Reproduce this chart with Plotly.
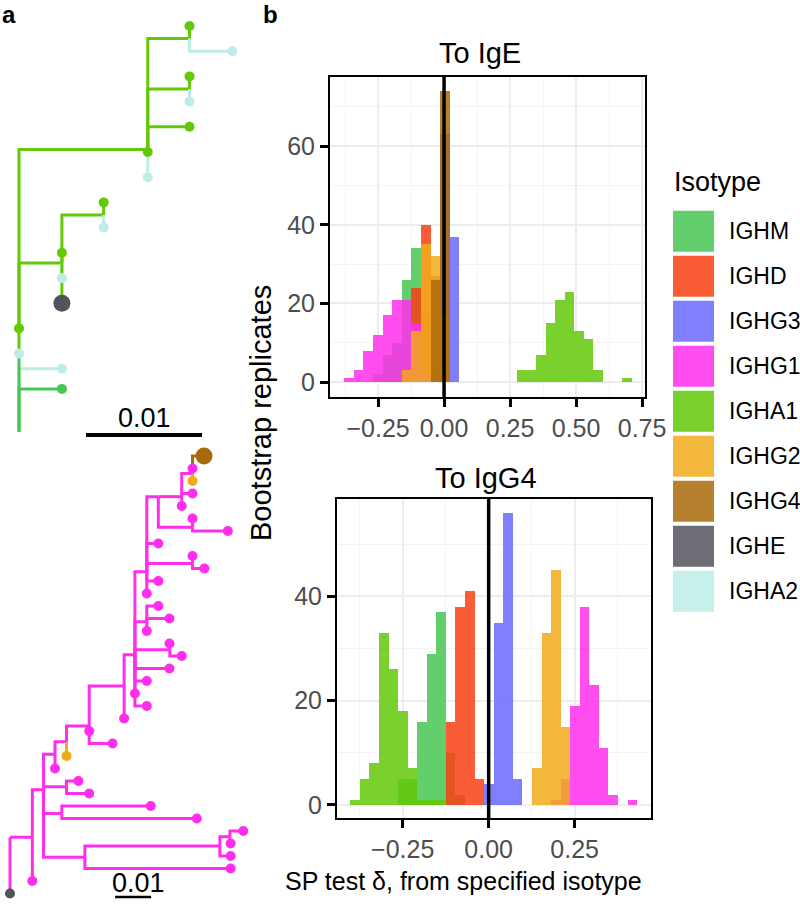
import plotly.graph_objects as go

W, H = 800, 905
FONT = "Liberation Sans, Arial, Helvetica, sans-serif"

# -----------------------------
# Isotypes and colours (as they appear on white)
# -----------------------------
isotypes = ["IGHM", "IGHD", "IGHG3", "IGHG1", "IGHA1", "IGHG2", "IGHG4", "IGHE", "IGHA2"]
iso_on_white = ["#63CF6C", "#FA5C38", "#8080FF", "#FF4DF0", "#7AD02C",
                "#F3B73E", "#B78030", "#6C6E75", "#C7F0EA"]
ALPHA = 0.85

# -----------------------------
# Histogram data: bootstrap counts per bin (30 bins per panel)
# -----------------------------
ige_bin_start = -0.378
ige_bin_width = 0.0363
ige_counts = {
    "IGHM":  [0, 0, 0, 2, 7, 10, 26, 34, 18, 3, 0, 0, 0, 0, 0, 0, 0, 0, 0, 0, 0, 0, 0, 0, 0, 0, 0, 0, 0, 0],
    "IGHD":  [0, 0, 0, 0, 0, 0, 3, 24, 40, 27, 6, 0, 0, 0, 0, 0, 0, 0, 0, 0, 0, 0, 0, 0, 0, 0, 0, 0, 0, 0],
    "IGHG3": [0, 0, 0, 0, 0, 0, 0, 0, 0, 0, 63, 37, 0, 0, 0, 0, 0, 0, 0, 0, 0, 0, 0, 0, 0, 0, 0, 0, 0, 0],
    "IGHG1": [1, 3, 8, 12, 17, 21, 21, 15, 2, 0, 0, 0, 0, 0, 0, 0, 0, 0, 0, 0, 0, 0, 0, 0, 0, 0, 0, 0, 0, 0],
    "IGHA1": [0, 0, 0, 0, 0, 0, 0, 0, 0, 0, 0, 0, 0, 0, 0, 0, 0, 0, 3, 3, 7, 15, 21, 23, 13, 11, 3, 0, 0, 1],
    "IGHG2": [0, 0, 0, 0, 0, 0, 3, 13, 35, 32, 17, 0, 0, 0, 0, 0, 0, 0, 0, 0, 0, 0, 0, 0, 0, 0, 0, 0, 0, 0],
    "IGHG4": [0, 0, 0, 0, 0, 0, 0, 0, 0, 26, 74, 0, 0, 0, 0, 0, 0, 0, 0, 0, 0, 0, 0, 0, 0, 0, 0, 0, 0, 0],
}

igg4_bin_start = -0.4023
igg4_bin_width = 0.0278
igg4_counts = {
    "IGHM":  [0, 0, 0, 0, 0, 5, 5, 16, 29, 37, 10, 2, 0, 0, 0, 0, 0, 0, 0, 0, 0, 0, 0, 0, 0, 0, 0, 0, 0, 0],
    "IGHD":  [0, 0, 0, 0, 0, 0, 0, 0, 0, 0, 16, 38, 41, 5, 0, 0, 0, 0, 0, 0, 0, 0, 0, 0, 0, 0, 0, 0, 0, 0],
    "IGHG3": [0, 0, 0, 0, 0, 0, 0, 0, 0, 0, 0, 0, 0, 0, 4, 35, 56, 5, 0, 0, 0, 0, 0, 0, 0, 0, 0, 0, 0, 0],
    "IGHG1": [0, 0, 0, 0, 0, 0, 0, 0, 0, 0, 0, 0, 0, 0, 0, 0, 0, 0, 0, 0, 0, 1, 5, 19, 38, 23, 11, 2, 0, 1],
    "IGHA1": [1, 5, 8, 33, 26, 18, 7, 1, 1, 1, 0, 0, 0, 0, 0, 0, 0, 0, 0, 0, 0, 0, 0, 0, 0, 0, 0, 0, 0, 0],
    "IGHG2": [0, 0, 0, 0, 0, 0, 0, 0, 0, 0, 0, 0, 0, 0, 0, 0, 0, 0, 0, 7, 33, 45, 15, 0, 0, 0, 0, 0, 0, 0],
}

# -----------------------------
# Tree a (top): x = divergence (subst./site), y = row
# -----------------------------
top_parent = [-1, 0, 0, 0, 3, 3, 5, 6, 6, 8, 8, 6, 11, 11, 6, 6, 5, 16, 16, 18, 18, 16, 16]
top_x = [0, 0.0037, 0.0037, 0, 0, 0, 0.0111, 0.0111, 0.0147, 0.0147, 0.0184, 0.0147,
         0.0147, 0.0147, 0.0147, 0.0111, 0.0037, 0.0037, 0.0073, 0.0073, 0.0073, 0.0037, 0.0037]
top_y = [16.1, 13.6, 14.4, 12.86, 13.0, 12.0, 4.9, 5.0, 0.5, 0.0, 1.0, 2.5,
         2.0, 3.0, 4.0, 6.0, 9.4, 9.0, 7.5, 7.0, 8.0, 10.0, 11.0]
top_edge = [None, "IGHA2", "IGHM", "IGHM", "IGHA2", "IGHA1", "IGHA1", "IGHA1", "IGHA1", "IGHA1",
            "IGHA2", "IGHA1", "IGHA1", "IGHA2", "IGHA1", "IGHA2", "IGHA1", "IGHA1", "IGHA1",
            "IGHA1", "IGHA2", "IGHA2", "IGHA1"]
top_tip = [None, "IGHA2", "IGHM", None, "IGHA2", "IGHA1", None, "IGHA1", None, "IGHA1",
           "IGHA2", None, "IGHA1", "IGHA2", "IGHA1", "IGHA2", None, "IGHA1", None,
           "IGHA1", "IGHA2", "IGHA2", "IGHE"]
top_target = "IGHE"

# -----------------------------
# Tree a (bottom)
# -----------------------------
bot_parent = [-1, 0, 0, 2, 2, 4, 5, 6, 7, 7, 6, 5, 4, 12, 12, 4, 15, 15, 4, 18,
              18, 20, 20, 22, 22, 22, 25, 25, 27, 27, 27, 27, 27, 32, 32, 27, 35, 35, 35, 27,
              39, 39, 39, 42, 42, 39, 39, 46, 47, 47, 46, 50, 50, 50, 53, 53, 53]
bot_x = [0, 0, 0.0062, 0.0062, 0.0093, 0.0208, 0.0583, 0.0611, 0.0648, 0.0613,
         0.0613, 0.0613, 0.0144, 0.0391, 0.0519, 0.0157, 0.0190, 0.0220, 0.0125, 0.0125,
         0.0157, 0.0157, 0.0220, 0.0220, 0.0285, 0.0317, 0.0317, 0.0347, 0.0443, 0.0380,
         0.0347, 0.0380, 0.0444, 0.0443, 0.0477, 0.0380, 0.0412, 0.0443, 0.0380, 0.0380,
         0.0412, 0.0380, 0.0507, 0.0507, 0.0540, 0.0412, 0.0412, 0.0507, 0.0507, 0.0605,
         0.0477, 0.0477, 0.0507, 0.0507, 0.0507, 0.0507, 0.0539]
bot_y = [30.5, 35, 30.5, 34, 26.7, 32.1, 31.2, 30.45, 30, 31,
         32, 33, 28.6, 28, 29, 26.45, 26, 27, 23.85, 25,
         22.85, 24, 21.6, 22, 23, 18.4, 21, 15.9, 17, 18,
         19, 20, 15.5, 15, 16, 13.25, 12, 13, 14, 9.25,
         10, 11, 8.6, 8, 9, 7, 3.25, 5.7, 5, 6,
         3.25, 4, 3, 1.4, 1, 2, 0]
bot_edge = ["IGHG1"] * 21 + ["IGHG2"] + ["IGHG1"] * 33 + ["IGHG2", "IGHG4"]
bot_tip = [None, "IGHE", None, "IGHG1", None, None, None, None, "IGHG1", "IGHG1",
           "IGHG1", "IGHG1", None, "IGHG1", "IGHG1", None, "IGHG1", "IGHG1", None, "IGHG1",
           None, "IGHG2", None, "IGHG1", "IGHG1", None, "IGHG1", None, "IGHG1", "IGHG1",
           "IGHG1", "IGHG1", None, "IGHG1", "IGHG1", None, "IGHG1", "IGHG1", "IGHG1", None,
           "IGHG1", "IGHG1", None, "IGHG1", "IGHG1", "IGHG1", None, None, "IGHG1", "IGHG1",
           None, "IGHG1", "IGHG1", None, "IGHG1", "IGHG2", "IGHG4"]
bot_target = "IGHG4"


# -----------------------------
# Helpers
# -----------------------------
def hex_rgb(h):
    return tuple(int(h[i:i + 2], 16) for i in (1, 3, 5))


def base_rgb(h, a=ALPHA):
    return tuple(int(round(min(255, max(0, (c - 255 * (1 - a)) / a)))) for c in hex_rgb(h))


def rgba(h, a=ALPHA):
    r, g, b = base_rgb(h, a)
    return f"rgba({r},{g},{b},{a})"


def solid(h):
    r, g, b = base_rgb(h)
    return f"rgb({r},{g},{b})"


COL = dict(zip(isotypes, iso_on_white))


def px_x(px):
    return px / W


def px_y(py):
    return 1 - py / H


fig = go.Figure()

# -----------------------------
# Histograms
# -----------------------------
for counts, start, width, xa, ya in [
    (ige_counts, ige_bin_start, ige_bin_width, "x", "y"),
    (igg4_counts, igg4_bin_start, igg4_bin_width, "x2", "y2"),
]:
    for iso in isotypes:
        if iso not in counts:
            continue
        c = counts[iso]
        centers = [start + width * (k + 0.5) for k in range(len(c))]
        fig.add_trace(go.Bar(
            x=centers, y=c, width=width, xaxis=xa, yaxis=ya,
            marker=dict(color=rgba(COL[iso]), line=dict(width=0)),
            showlegend=False, name=iso,
        ))


# -----------------------------
# Trees
# -----------------------------
def draw_tree(parent, xs, ys, edge, tip, target, xa, ya):
    runs = []
    for i, p in enumerate(parent):
        if p < 0:
            continue
        seg = ([xs[p], xs[p], xs[i], None], [ys[p], ys[i], ys[i], None])
        if runs and runs[-1][0] == edge[i]:
            runs[-1][1].extend(seg[0])
            runs[-1][2].extend(seg[1])
        else:
            runs.append([edge[i], list(seg[0]), list(seg[1])])
    for iso, lx, ly in runs:
        fig.add_trace(go.Scatter(
            x=lx, y=ly, mode="lines", xaxis=xa, yaxis=ya, showlegend=False,
            line=dict(color=solid(COL[iso]), width=3), hoverinfo="skip",
        ))
    for iso in isotypes:
        idx = [i for i, t in enumerate(tip) if t == iso]
        if not idx:
            continue
        fig.add_trace(go.Scatter(
            x=[xs[i] for i in idx], y=[ys[i] for i in idx], mode="markers",
            xaxis=xa, yaxis=ya, showlegend=False,
            marker=dict(color=solid(COL[iso]), size=17 if iso == target else 10,
                        line=dict(width=0)),
        ))


draw_tree(top_parent, top_x, top_y, top_edge, top_tip, top_target, "x3", "y3")
draw_tree(bot_parent, bot_x, bot_y, bot_edge, bot_tip, bot_target, "x4", "y4")

# tree pixel mapping
T_ROOT, T_PPU, T_ROW0, T_ROWH = 19, 116 / 0.01, 26, 25.2
B_ROOT, B_PPU, B_ROW0, B_ROWH = 10, 36 / 0.01, 456, 12.5

# scale bars
top_bar_x0, top_bar_row = 0.00578, 16.23
bot_bar_x0, bot_bar_row = 0.0292, 35.28
fig.add_trace(go.Scatter(x=[top_bar_x0, top_bar_x0 + 0.01], y=[top_bar_row] * 2, mode="lines",
                         xaxis="x3", yaxis="y3", showlegend=False,
                         line=dict(color="black", width=4)))
fig.add_trace(go.Scatter(x=[bot_bar_x0, bot_bar_x0 + 0.01], y=[bot_bar_row] * 2, mode="lines",
                         xaxis="x4", yaxis="y4", showlegend=False,
                         line=dict(color="black", width=2.5)))

# -----------------------------
# Axes
# -----------------------------
grid = dict(showgrid=True, gridcolor="#EDEDED", gridwidth=1.6, zeroline=False,
            showline=True, linecolor="black", linewidth=2, mirror=True, automargin=False,
            ticks="outside", ticklen=8, tickwidth=2.5, tickcolor="black",
            tickfont=dict(size=25, color="#4D4D4D", family=FONT))
minor_x = dict(dtick=0.125, tick0=0, showgrid=True, gridcolor="#F4F4F4", gridwidth=1.4)
minor_y = dict(dtick=10, tick0=0, showgrid=True, gridcolor="#F4F4F4", gridwidth=1.4)

fig.update_layout(
    width=W, height=H, autosize=False, showlegend=False,
    margin=dict(l=0, r=0, t=0, b=0, pad=0, autoexpand=False),
    paper_bgcolor="white", plot_bgcolor="white", barmode="overlay", bargap=0,
    font=dict(family=FONT, color="black"),
    xaxis=dict(domain=[px_x(330), px_x(645)], range=[-0.432, 0.761], anchor="y",
               tickvals=[-0.25, 0, 0.25, 0.5, 0.75], tickformat=".2f", minor=minor_x, **grid),
    yaxis=dict(domain=[px_y(397), px_y(77)], range=[-3.8, 77.6], anchor="x",
               tickvals=[0, 20, 40, 60], minor=minor_y, **grid),
    xaxis2=dict(domain=[px_x(337), px_x(651)], range=[-0.441, 0.472], anchor="y2",
                tickvals=[-0.25, 0, 0.25], tickformat=".2f", minor=minor_x, **grid),
    yaxis2=dict(domain=[px_y(818), px_y(499)], range=[-2.5, 58.7], anchor="x2",
                tickvals=[0, 20, 40], minor=minor_y, **grid),
    xaxis3=dict(domain=[0, px_x(255)], anchor="y3", visible=False,
                range=[(0 - T_ROOT) / T_PPU, (255 - T_ROOT) / T_PPU]),
    yaxis3=dict(domain=[px_y(445), px_y(5)], anchor="x3", visible=False,
                range=[(445 - T_ROW0) / T_ROWH, (5 - T_ROW0) / T_ROWH]),
    xaxis4=dict(domain=[0, px_x(260)], anchor="y4", visible=False,
                range=[(0 - B_ROOT) / B_PPU, (260 - B_ROOT) / B_PPU]),
    yaxis4=dict(domain=[px_y(905), px_y(445)], anchor="x4", visible=False,
                range=[(905 - B_ROW0) / B_ROWH, (445 - B_ROW0) / B_ROWH]),
)

# vertical reference line at delta = 0
for xr, yr in [("x", "y domain"), ("x2", "y2 domain")]:
    fig.add_shape(type="line", xref=xr, yref=yr, x0=0, x1=0, y0=0, y1=1,
                  line=dict(color="black", width=3.5))

# -----------------------------
# Text
# -----------------------------
ann = []


def text(s, x, y, size, xanchor="center", **kw):
    d = dict(text=s, x=x, y=y, xref="paper", yref="paper", showarrow=False,
             xanchor=xanchor, yanchor="middle",
             font=dict(size=size, family=FONT, color="black"))
    d.update(kw)
    ann.append(d)


text("<b>a</b>", px_x(9), px_y(14), 24)
text("<b>b</b>", px_x(270), px_y(14), 24)
text("To IgE", px_x(480), px_y(53), 29)
text("To IgG4", px_x(486), px_y(478), 29)
text("Bootstrap replicates", px_x(261), px_y(413), 29, textangle=-90)
text("SP test δ, from specified isotype", px_x(463), px_y(881), 25)

# scale bar labels
for lbl_x, lbl_y, xr, yr in [(top_bar_x0 + 0.005, 15.56, "x3", "y3"),
                             (bot_bar_x0 + 0.0066, 34.16, "x4", "y4")]:
    ann.append(dict(text="0.01", x=lbl_x, y=lbl_y, xref=xr, yref=yr, showarrow=False,
                    xanchor="center", yanchor="middle",
                    font=dict(size=27, family=FONT, color="black")))

# legend (drawn by hand to get the large square keys)
text("Isotype", px_x(672), px_y(182), 27, xanchor="left")
key_left, key_size, key_top, key_step = 673, 41, 210.7, 45
for i, iso in enumerate(isotypes):
    top = key_top + key_step * i
    fig.add_shape(type="rect", xref="paper", yref="paper",
                  x0=px_x(key_left), x1=px_x(key_left + key_size),
                  y0=px_y(top + key_size), y1=px_y(top),
                  fillcolor=rgba(COL[iso]), line=dict(width=0))
    text(iso, px_x(727), px_y(top + key_size / 2), 23, xanchor="left")

fig.update_layout(annotations=ann)

# the page body has a default 8px margin and may grow scrollbars; remove both
fig.write_html(
    "out.html",
    config={"displayModeBar": False, "responsive": False},
    post_script="document.body.style.margin = '0'; document.body.style.overflow = 'hidden';"
                " document.documentElement.style.overflow = 'hidden';",
)
